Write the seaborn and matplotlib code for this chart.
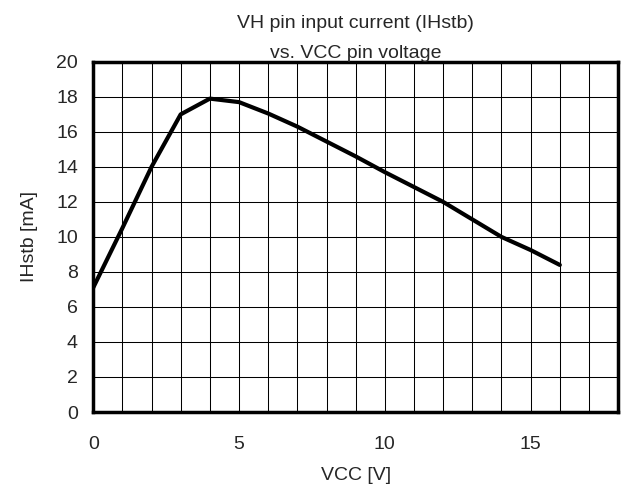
import numpy as np
import pandas as pd
import seaborn as sns
import matplotlib.pyplot as plt
from matplotlib.ticker import MultipleLocator

# values
vcc = [0, 1, 2, 3, 4, 5, 6, 7, 8, 9, 10, 11, 12, 13, 14, 15, 16]
ihstb = [7.1, 10.5, 14.0, 17.0, 17.9, 17.7, 17.05, 16.3, 15.45, 14.6, 13.7, 12.85, 12.0, 11.0, 10.0, 9.25, 8.4]

x_ticks = [0, 5, 10, 15]
y_ticks = list(range(0, 21, 2))

sns.set_style("white")
plt.rcParams['font.family'] = ['Liberation Sans', 'DejaVu Sans']

df = pd.DataFrame({"vcc": vcc, "ihstb": ihstb})

fig = plt.figure(figsize=(6.34, 4.87), dpi=100)
ax = fig.add_axes([0.147, 0.154, 0.828, 0.719])

sns.lineplot(x="vcc", y="ihstb", data=df, color="black", linewidth=3, ax=ax)

ax.set_xlim(0, 18)
ax.set_ylim(0, 20)
ax.set_xticks(x_ticks)
ax.set_yticks(y_ticks)
ax.xaxis.set_minor_locator(MultipleLocator(1))
ax.grid(True, which="both", axis="x", color="black", linewidth=0.75)
ax.grid(True, which="major", axis="y", color="black", linewidth=0.75)
ax.tick_params(which="both", length=0, labelsize=14)
ax.tick_params(axis="x", pad=17)
ax.tick_params(axis="y", pad=11)

for s in ax.spines.values():
    s.set_visible(True)
    s.set_color("black")
    s.set_linewidth(2.5)

ax.set_xlabel("VCC [V]", fontsize=14, labelpad=10)
ax.set_ylabel("IHstb [mA]", fontsize=14, labelpad=13)
ax.set_title("VH pin input current (IHstb)\nvs. VCC pin voltage", fontsize=14, pad=3, linespacing=1.95)

fig.savefig("out.png", dpi=100)
